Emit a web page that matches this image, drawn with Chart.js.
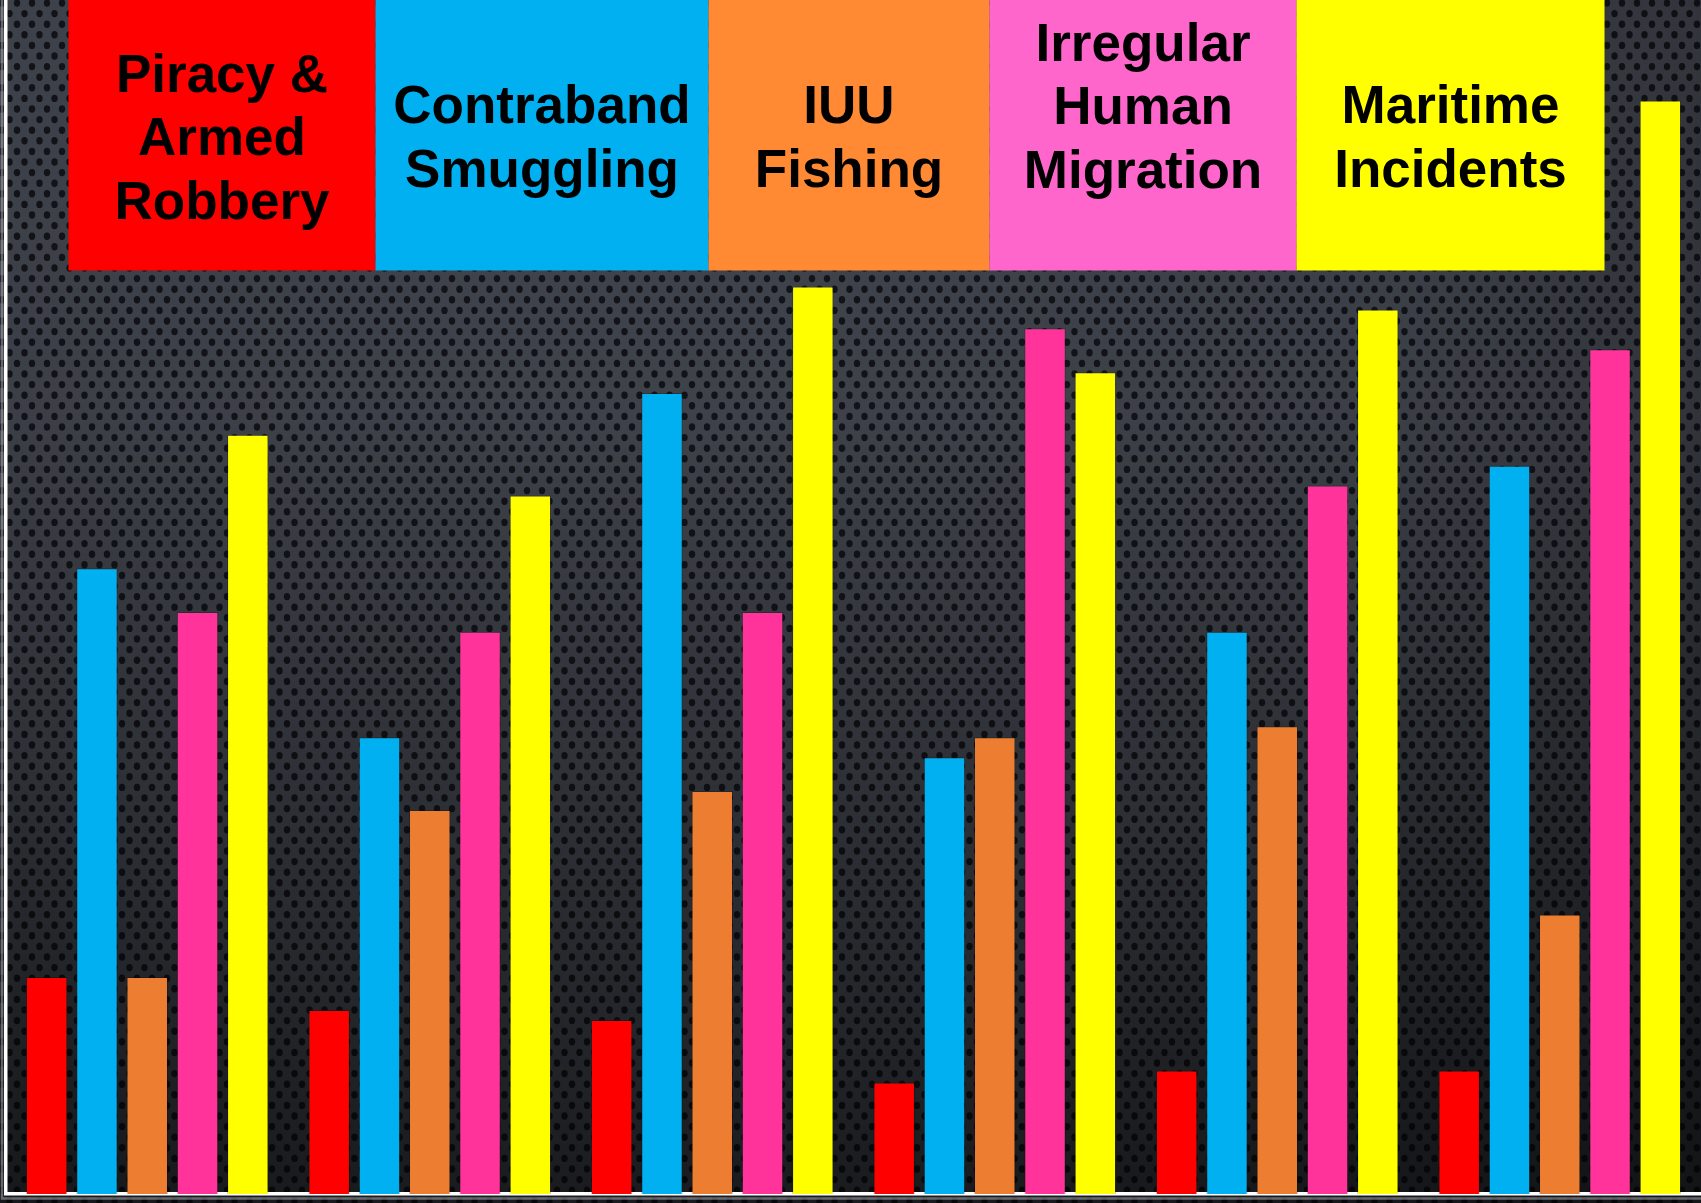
<!DOCTYPE html>
<html>
<head>
<meta charset="utf-8">
<script src="https://cdn.jsdelivr.net/npm/chart.js@4.4.1/dist/chart.umd.min.js"></script>
<style>
  html, body { margin: 0; padding: 0; background: #1d1f23; overflow: hidden; }
  canvas { display: block; }
</style>
</head>
<body>
<canvas id="chart" width="1701" height="1203"></canvas>
<script>
// Six reporting periods, five maritime threat categories
const periods = ['1', '2', '3', '4', '5', '6'];
const seriesNames = ['Piracy & Armed Robbery', 'Contraband Smuggling', 'IUU Fishing', 'Irregular Human Migration', 'Maritime Incidents'];
const keyLines = [
  ['Piracy &', 'Armed', 'Robbery'],
  ['Contraband', 'Smuggling'],
  ['IUU', 'Fishing'],
  ['Irregular', 'Human', 'Migration'],
  ['Maritime', 'Incidents']
];

const piracy     = [21.8, 18.5, 17.5, 11.2, 12.4, 12.4];
const contraband = [62.9, 45.9, 80.5, 43.9, 56.5, 73.2];
const iuuFishing = [21.8, 38.6, 40.5, 45.9, 47.0, 28.1];
const migration  = [58.5, 56.5, 58.5, 87.0, 71.2, 84.9];
const incidents  = [76.3, 70.2, 91.2, 82.6, 88.9, 109.9];

const barColors = ['#FF0000', '#00B0F0', '#ED7D31', '#FF3399', '#FFFF00'];
const keyColors = ['#FF0000', '#00B0F0', '#FF8A33', '#FF66CC', '#FFFF00'];

// Colour key tiles across the top (pixel layout of the banner)
const keyEdges = [68.5, 375.5, 708.5, 989.5, 1296.5, 1604.5];
const keyHeight = 270.5;
const keyTextMid = [136, 136, 136, 105, 136];
const keyLineGap = 63.5;
const keyFont = 'bold 53px "Liberation Sans", Arial, sans-serif';

// Perforated dark metal backdrop with a soft vertical fade
const backdrop = {
  id: 'backdrop',
  beforeDraw(chart) {
    const { ctx, width, height, chartArea } = chart;
    ctx.save();
    ctx.fillStyle = '#40444c';
    ctx.fillRect(0, 0, width, height);
    ctx.fillStyle = 'rgba(14,16,20,0.9)';
    const dx = 15, dy = 10.6;
    let row = 0;
    for (let y = 3; y < height + dy; y += dy, row++) {
      const off = (row % 2) ? dx / 2 : 0;
      for (let x = 2 + off; x < width + dx; x += dx) {
        ctx.beginPath();
        ctx.ellipse(x, y, 3.2, 3.7, 0, 0, Math.PI * 2);
        ctx.fill();
      }
    }
    const lin = ctx.createLinearGradient(0, 0, 0, height);
    lin.addColorStop(0, 'rgba(0,0,0,0)');
    lin.addColorStop(0.35, 'rgba(0,0,0,0.04)');
    lin.addColorStop(0.7, 'rgba(0,0,0,0.3)');
    lin.addColorStop(1, 'rgba(0,0,0,0.55)');
    ctx.fillStyle = lin;
    ctx.fillRect(0, 0, width, height);
    const rad = ctx.createRadialGradient(650, 300, 100, 650, 300, 1300);
    rad.addColorStop(0, 'rgba(0,0,0,0)');
    rad.addColorStop(0.55, 'rgba(0,0,0,0.05)');
    rad.addColorStop(1, 'rgba(0,0,0,0.35)');
    ctx.fillStyle = rad;
    ctx.fillRect(0, 0, width, height);

    // faint grey shadow under the white axis lines
    ctx.strokeStyle = 'rgba(170,172,178,0.55)';
    ctx.lineWidth = 2.5;
    ctx.beginPath();
    ctx.moveTo(chartArea.left - 4, 0);
    ctx.lineTo(chartArea.left - 4, chartArea.bottom + 4.5);
    ctx.lineTo(width, chartArea.bottom + 4.5);
    ctx.stroke();
    ctx.restore();
  }
};

// Colour key banner drawn from the series names and colours
const keyBanner = {
  id: 'keyBanner',
  afterDraw(chart) {
    const { ctx } = chart;
    ctx.save();
    chart.data.datasets.forEach((ds, i) => {
      const x0 = keyEdges[i], x1 = keyEdges[i + 1];
      ctx.fillStyle = keyColors[i];
      ctx.fillRect(x0, 0, x1 - x0, keyHeight);
      ctx.fillStyle = '#000000';
      ctx.font = keyFont;
      ctx.textAlign = 'center';
      ctx.textBaseline = 'alphabetic';
      const lines = keyLines[i];
      const cx = (x0 + x1) / 2;
      lines.forEach((t, j) => {
        const base = keyTextMid[i] + (j - (lines.length - 1) / 2) * keyLineGap + 19;
        ctx.fillText(t, cx, base);
      });
    });
    ctx.restore();
  }
};

const seriesValues = [piracy, contraband, iuuFishing, migration, incidents];

new Chart(document.getElementById('chart'), {
  type: 'bar',
  data: {
    labels: periods,
    datasets: seriesNames.map((name, i) => ({
      label: name,
      data: seriesValues[i],
      backgroundColor: barColors[i],
      borderColor: 'rgba(0,0,0,0.2)',
      borderWidth: 1,
      categoryPercentage: 0.89,
      barPercentage: 0.825
    }))
  },
  options: {
    responsive: false,
    animation: false,
    layout: { padding: { top: 0, left: 6, right: 0, bottom: 9 } },
    plugins: {
      legend: { display: false },
      tooltip: { enabled: false },
      title: { display: false }
    },
    scales: {
      x: {
        grid: { display: false, drawTicks: false },
        ticks: { display: false },
        border: { display: true, color: '#ffffff', width: 3.5 }
      },
      y: {
        min: 0,
        max: 120,
        grid: { display: false, drawTicks: false },
        ticks: { display: false },
        border: { display: true, color: '#ffffff', width: 3.5 }
      }
    }
  },
  plugins: [backdrop, keyBanner]
});
</script>
</body>
</html>
